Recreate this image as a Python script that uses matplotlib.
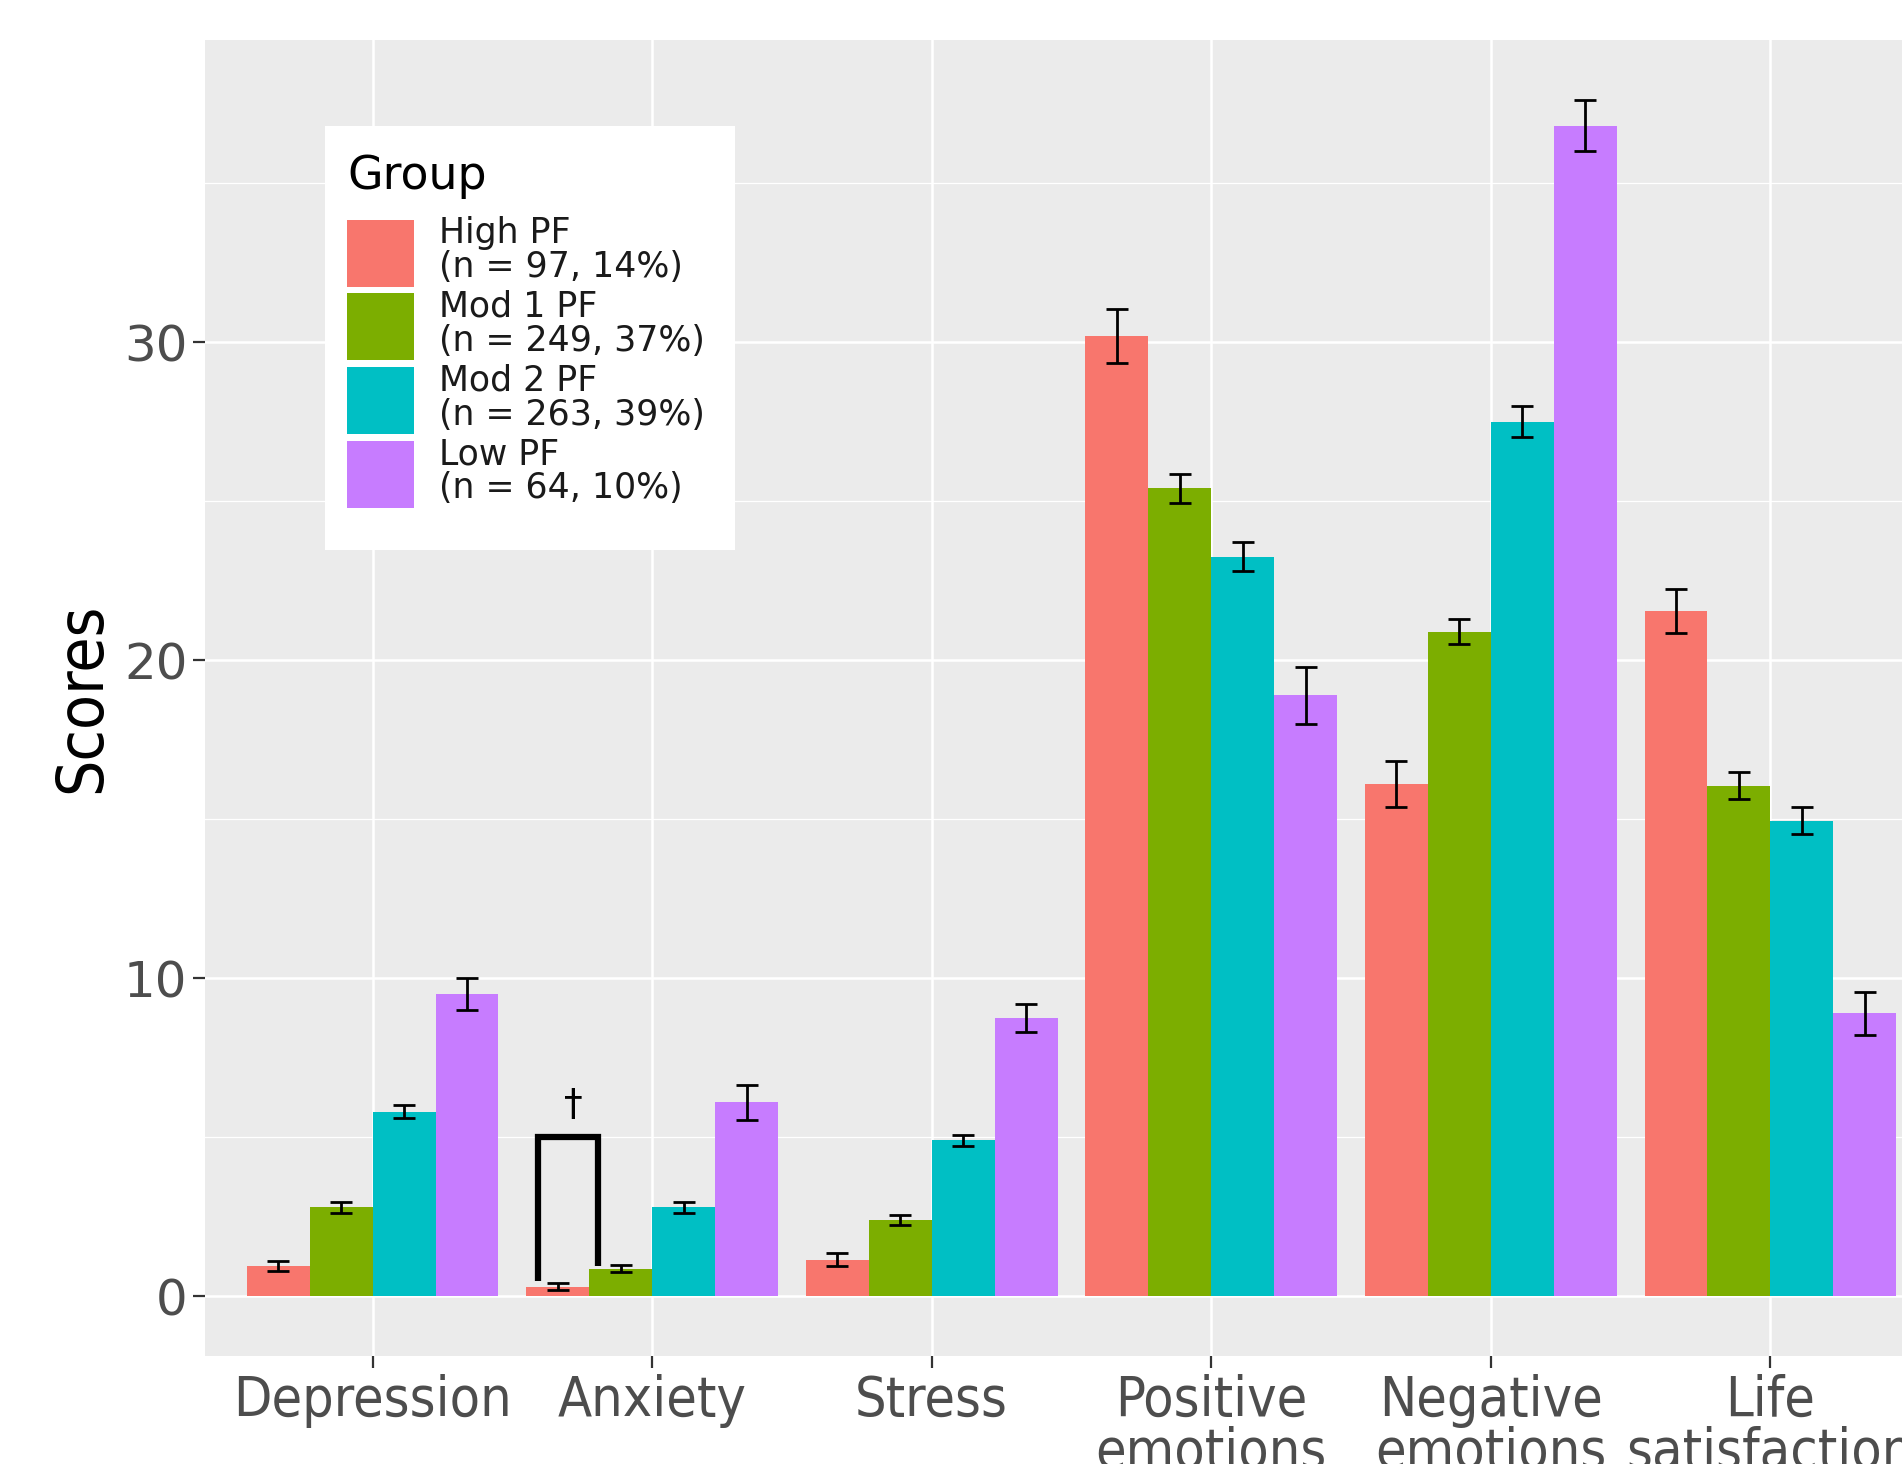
import numpy as np
import matplotlib
matplotlib.use("Agg")
import matplotlib.pyplot as plt
from matplotlib.patches import Patch, Rectangle

# ── Data ────────────────────────────────────────────────────
categories = ["Depression", "Anxiety", "Stress",
              "Positive\nemotions", "Negative\nemotions", "Life\nsatisfaction"]
groups = ["High PF\n(n = 97, 14%)", "Mod 1 PF\n(n = 249, 37%)",
          "Mod 2 PF\n(n = 263, 39%)", "Low PF\n(n = 64, 10%)"]

high_pf = [0.95, 0.30, 1.15, 30.2, 16.1, 21.55]
high_pf_se = [0.17, 0.12, 0.20, 0.85, 0.72, 0.70]
mod1_pf = [2.80, 0.87, 2.40, 25.4, 20.9, 16.05]
mod1_pf_se = [0.17, 0.10, 0.15, 0.45, 0.40, 0.42]
mod2_pf = [5.80, 2.80, 4.90, 23.25, 27.5, 14.95]
mod2_pf_se = [0.20, 0.17, 0.17, 0.45, 0.48, 0.42]
low_pf = [9.50, 6.10, 8.75, 18.9, 36.8, 8.90]
low_pf_se = [0.50, 0.55, 0.45, 0.90, 0.80, 0.68]

means = [high_pf, mod1_pf, mod2_pf, low_pf]
ses = [high_pf_se, mod1_pf_se, mod2_pf_se, low_pf_se]

# significance bracket (Anxiety, High vs Mod 1)
bracket_x = [1.59, 1.806]
bracket_top = 5.0
bracket_feet = [0.48, 0.94]
dagger_pos = (1.718, 6.0)

# ── Style ───────────────────────────────────────────────────
COLORS = ["#F8766D", "#7CAE00", "#00BFC4", "#C77CFF"]
PANEL = "#EBEBEB"
W, H = 1902, 1464

fig = plt.figure(figsize=(W / 100, H / 100), dpi=100)
ax = fig.add_axes([205 / W, 1 - 1356 / H, 1733 / W, 1316 / H])
ax.set_facecolor(PANEL)
for s in ax.spines.values():
    s.set_visible(False)

x = np.arange(1, len(categories) + 1)
w = 0.225
for i, (m, e) in enumerate(zip(means, ses)):
    pos = x + (i - 1.5) * w
    ax.bar(pos, m, width=w, color=COLORS[i], zorder=2, label=groups[i])
    ax.errorbar(pos, m, yerr=e, fmt="none", ecolor="black",
                elinewidth=2, capsize=8, capthick=2, zorder=3)

# bracket + dagger
ax.plot([bracket_x[0], bracket_x[0], bracket_x[1], bracket_x[1]],
        [bracket_feet[0], bracket_top, bracket_top, bracket_feet[1]],
        color="black", lw=4.5, solid_joinstyle="miter",
        solid_capstyle="butt", zorder=4)
ax.text(dagger_pos[0], dagger_pos[1], "\u2020", ha="center", va="center",
        fontsize=27, color="black", zorder=4)

ax.set_xlim(0.4, 6.6)
ax.set_ylim(-1.88, 39.5)
ax.set_yticks([0, 10, 20, 30])
ax.set_yticks([5, 15, 25, 35], minor=True)
ax.set_xticks(x)
ax.set_xticklabels(categories, family="DejaVu Sans", stretch="condensed",
                   fontsize=40, color="#4D4D4D", linespacing=0.95)
ax.set_yticklabels(["0", "10", "20", "30"], fontsize=36, color="#4D4D4D")
ax.tick_params(axis="both", which="major", length=8.6, width=1.6,
               color="#333333")
ax.tick_params(axis="x", pad=4)
ax.tick_params(axis="y", pad=4)
ax.tick_params(which="minor", length=0)

ax.grid(which="major", color="white", lw=1.8, zorder=0)
ax.grid(which="minor", axis="y", color="white", lw=0.9, zorder=0)
ax.set_axisbelow(True)

ax.set_ylabel("Scores", family="DejaVu Sans", stretch="condensed",
              fontsize=46, color="black")
ax.yaxis.set_label_coords(-0.053, 0.5)

# legend background box (ggplot legend.background)
fig.patches.append(Rectangle((325 / W, 1 - 550 / H), 410 / W, 424 / H,
                             transform=fig.transFigure, facecolor="white",
                             edgecolor="none", zorder=1))

handles = [Patch(facecolor=c, edgecolor="none") for c in COLORS]
leg = fig.legend(handles, groups, title="Group", loc="upper left",
                 bbox_to_anchor=(347 / W, 1 - 154 / H),
                 fontsize=25, title_fontsize=33, alignment="left",
                 frameon=False, handlelength=1.93, handleheight=2.59,
                 handletextpad=0.72, labelspacing=0.09, borderpad=0,
                 borderaxespad=0)
leg.set_zorder(5)
leg._legend_box.sep = 12.5
for t in leg.get_texts():
    t.set_linespacing(1.0)
    t.set_color("#1A1A1A")

fig.savefig("out.png", dpi=100)
